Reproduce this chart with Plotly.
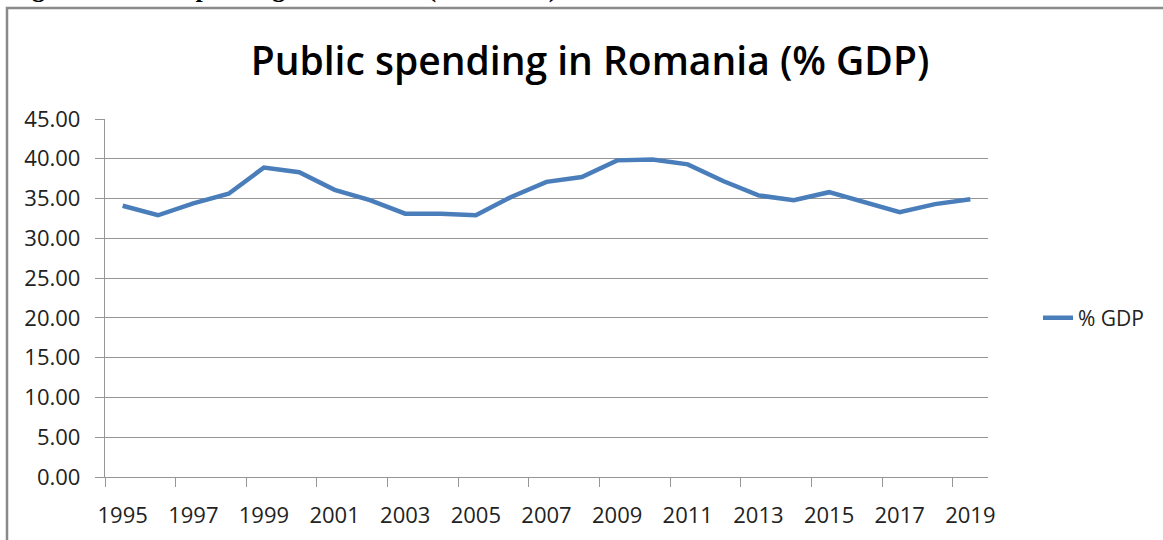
import plotly.graph_objects as go

years = list(range(1995, 2020))
pct_gdp = [34.1, 32.9, 34.4, 35.6, 38.9, 38.3, 36.1, 34.8, 33.1, 33.1, 32.9, 35.2,
           37.1, 37.7, 39.8, 39.9, 39.3, 37.2, 35.4, 34.8, 35.8, 34.5, 33.3, 34.3, 34.9]
xtick_years = list(range(1995, 2020, 2))
ytick_vals = [0, 5, 10, 15, 20, 25, 30, 35, 40, 45]

W, H = 1163, 540
L, R, T, B = 105, 988, 119, 477  # plot area in px
pw, ph = R - L, B - T

def px_x(p):
    return (p - L) / pw

def px_y(p):
    return (B - p) / ph

grid = "#969696"
font_main = "Open Sans"

fig = go.Figure()
fig.add_trace(go.Scatter(
    x=years, y=pct_gdp, mode="lines", name="% GDP",
    line=dict(color="#4A7EBB", width=4.5),
))

fig.update_layout(
    width=W, height=H,
    margin=dict(l=L, r=W - R, t=T, b=H - B, pad=0),
    paper_bgcolor="white", plot_bgcolor="white",
    font=dict(family=font_main, size=22, color="#222222"),
    showlegend=True,
    legend=dict(x=px_x(1038), y=px_y(318), xanchor="left", yanchor="middle",
                font=dict(size=21, color="#222222"), bgcolor="rgba(0,0,0,0)",
                borderwidth=0),
    title=dict(text="Public spending in Romania (% GDP)",
               font=dict(family=font_main, size=39, color="#000000", weight=600),
               x=(590) / W, xanchor="center", y=1 - 61 / H, yanchor="middle"),
    annotations=[dict(
        text="<b>Figure 1 Public spending in Romania (1995-2019)</b>",
        xref="paper", yref="paper", x=px_x(7), y=px_y(5),
        xanchor="left", yanchor="bottom", showarrow=False,
        font=dict(family="Liberation Serif", size=26, color="#000000"),
    )],
    shapes=[dict(type="rect", xref="paper", yref="paper",
                 x0=px_x(7), x1=px_x(1200), y0=px_y(600), y1=px_y(8),
                 line=dict(color="#8a8a8a", width=2.5), fillcolor="rgba(0,0,0,0)",
                 layer="below")],
)

fig.update_xaxes(
    range=[1994.5, 2019.5], tickmode="array", tickvals=xtick_years,
    ticktext=[str(y) for y in xtick_years],
    ticks="outside", ticklen=9, tickcolor="rgba(0,0,0,0)",
    ticklabelstandoff=9,
    showgrid=False, zeroline=False,
    showline=True, linecolor=grid, linewidth=1.3,
    tickfont=dict(size=22, color="#222222"),
    minor=dict(tickmode="array", tickvals=[1994.5 + 2 * k for k in range(13)],
               ticks="outside", ticklen=9, tickcolor=grid, tickwidth=1.3,
               showgrid=False),
)
fig.update_yaxes(
    range=[0, 45], tickmode="array", tickvals=ytick_vals,
    ticktext=[f"{v:.2f}" for v in ytick_vals],
    ticks="outside", ticklen=9, tickcolor=grid, tickwidth=1.3,
    ticklabelstandoff=10,
    showgrid=True, gridcolor=grid, gridwidth=1.3,
    zeroline=False, showline=True, linecolor=grid, linewidth=1.3,
    tickfont=dict(size=22, color="#222222"),
)

fig.write_html("out.html")
